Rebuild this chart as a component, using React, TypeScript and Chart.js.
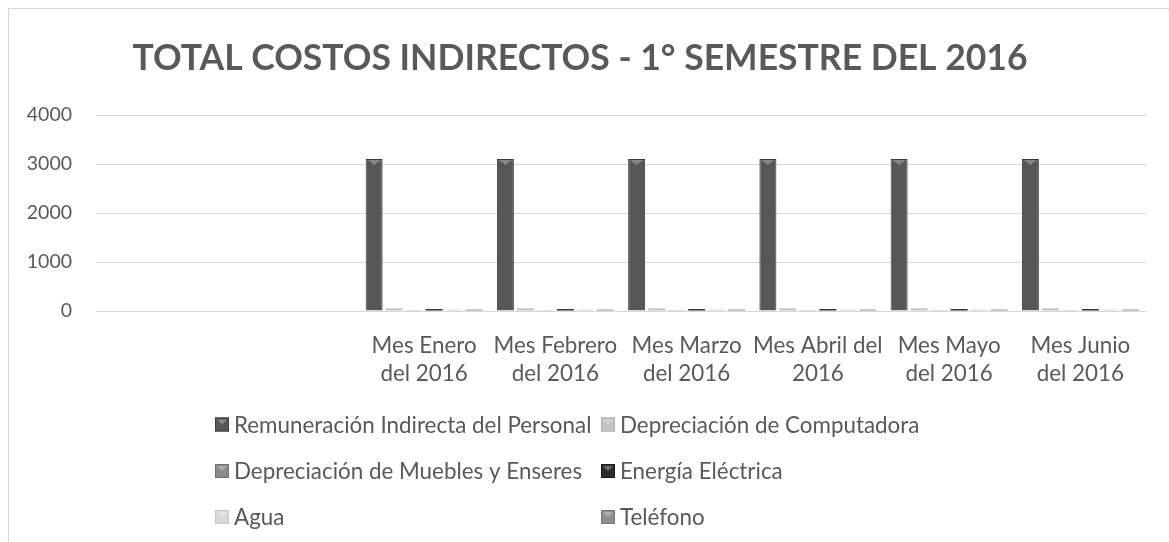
import React, { useEffect, useRef } from "react";
import { Chart, registerables } from "chart.js";

Chart.register(...registerables);

const FONT = "Lato, 'Open Sans', sans-serif";
const TEXT_COLOR = "#595959";
const GRID_COLOR = "#d9d9d9";

const titleText = "TOTAL COSTOS INDIRECTOS - 1° SEMESTRE DEL 2016";

const categories: (string | string[])[] = [
  "",
  "",
  ["Mes Enero", "del 2016"],
  ["Mes Febrero", "del 2016"],
  ["Mes Marzo", "del 2016"],
  ["Mes Abril del", "2016"],
  ["Mes Mayo", "del 2016"],
  ["Mes Junio", "del 2016"],
];

const remuneracion = [null, null, 3100, 3100, 3100, 3100, 3100, 3100];
const depComputadora = [null, null, 55, 55, 55, 55, 55, 55];
const depMuebles = [null, null, 5, 5, 5, 5, 5, 5];
const energia = [null, null, 40, 40, 40, 40, 40, 40];
const agua = [null, null, 30, 30, 30, 30, 30, 30];
const telefono = [null, null, 30, 30, 30, 30, 30, 30];

const seriesNames = [
  "Remuneración Indirecta del Personal",
  "Depreciación de Computadora",
  "Depreciación de Muebles y Enseres",
  "Energía Eléctrica",
  "Agua",
  "Teléfono",
];
const seriesValues = [remuneracion, depComputadora, depMuebles, energia, agua, telefono];
const seriesColors = ["#575757", "#c4c4c4", "#8a8a8a", "#2b2b2b", "#d9d9d9", "#8f8f8f"];
const seriesBorders = ["#3c3c3c", "#b0b0b0", "#707070", "#1a1a1a", "#c6c6c6", "#767676"];

const yTicks = [0, 1000, 2000, 3000, 4000];

const LEGEND_COL_X = [215, 601];
const LEGEND_ROW_Y = [424.5, 471, 517];

const frameLegendPlugin = {
  id: "frameLegend",
  afterDatasetsDraw(chart: any) {
    // bevel highlight at the top of the tall bars
    const ctx = chart.ctx as CanvasRenderingContext2D;
    const meta = chart.getDatasetMeta(0);
    ctx.save();
    ctx.fillStyle = "rgba(255,255,255,0.28)";
    meta.data.forEach((bar: any) => {
      if (bar.skip || !isFinite(bar.y)) return;
      const half = bar.width / 2;
      ctx.beginPath();
      ctx.moveTo(bar.x - half + 2, bar.y + 1);
      ctx.lineTo(bar.x + half - 2, bar.y + 1);
      ctx.lineTo(bar.x, bar.y + 6);
      ctx.closePath();
      ctx.fill();
    });
    ctx.restore();
  },
  afterDraw(chart: any) {
    const ctx = chart.ctx as CanvasRenderingContext2D;
    ctx.save();
    // outer frame (top & left visible)
    ctx.strokeStyle = GRID_COLOR;
    ctx.lineWidth = 1;
    ctx.beginPath();
    ctx.moveTo(8.5, chart.height);
    ctx.lineTo(8.5, 8.5);
    ctx.lineTo(chart.width, 8.5);
    ctx.stroke();

    // legend in two columns
    ctx.font = `22.4px ${FONT}`;
    ctx.textBaseline = "middle";
    ctx.textAlign = "left";
    chart.data.datasets.forEach((ds: any, i: number) => {
      const x = LEGEND_COL_X[i % 2];
      const y = LEGEND_ROW_Y[Math.floor(i / 2)];
      ctx.fillStyle = ds.backgroundColor;
      ctx.fillRect(x, y - 7, 14, 14);
      ctx.strokeStyle = ds.borderColor;
      ctx.strokeRect(x + 0.5, y - 6.5, 13, 13);
      ctx.fillStyle = "rgba(255,255,255,0.3)";
      ctx.beginPath();
      ctx.moveTo(x + 2, y - 5);
      ctx.lineTo(x + 12, y - 5);
      ctx.lineTo(x + 7, y);
      ctx.closePath();
      ctx.fill();
      ctx.fillStyle = TEXT_COLOR;
      ctx.fillText(ds.label, x + 19, y + 1);
    });
    ctx.restore();
  },
};

export default function App() {
  const canvasRef = useRef<HTMLCanvasElement | null>(null);

  useEffect(() => {
    document.body.style.margin = "0";
    const canvas = canvasRef.current;
    if (!canvas) return;
    const chart = new Chart(canvas, {
      type: "bar",
      data: {
        labels: categories,
        datasets: seriesNames.map((name, i) => ({
          label: name,
          data: seriesValues[i],
          backgroundColor: seriesColors[i],
          borderColor: seriesBorders[i],
          borderWidth: i === 0 ? 1 : 0,
          categoryPercentage: 0.914,
          barPercentage: 0.85,
        })),
      },
      options: {
        responsive: false,
        animation: false,
        layout: { padding: { left: 14, right: 23, top: 0, bottom: 0 } },
        plugins: {
          legend: { display: false },
          tooltip: { enabled: false },
          title: {
            display: true,
            text: titleText,
            color: TEXT_COLOR,
            font: { family: FONT, size: 35.5, weight: "bold", lineHeight: 1.2 },
            padding: { top: 37, bottom: 35.4 },
          },
        },
        scales: {
          x: {
            grid: { display: false, drawTicks: false },
            border: { display: true, color: GRID_COLOR },
            ticks: {
              color: TEXT_COLOR,
              font: { family: FONT, size: 22.4, lineHeight: 1.23 },
              padding: 21,
              maxRotation: 0,
              autoSkip: false,
            },
            afterFit: (scale: any) => {
              scale.height = 231;
            },
          },
          y: {
            min: 0,
            max: 4000,
            grid: { color: GRID_COLOR, drawTicks: false },
            border: { display: false },
            ticks: {
              color: TEXT_COLOR,
              font: { family: FONT, size: 19.5 },
              padding: 24,
              stepSize: 1000,
              callback: (v: any) => (yTicks.includes(Number(v)) ? String(v) : ""),
            },
            afterFit: (scale: any) => {
              scale.width = 82;
            },
          },
        },
      },
      plugins: [frameLegendPlugin],
    });
    return () => chart.destroy();
  }, []);

  return (
    <div style={{ position: "absolute", left: 0, top: 0, width: 1169, height: 542, background: "#fff" }}>
      <canvas ref={canvasRef} width={1169} height={542} style={{ display: "block" }} />
    </div>
  );
}
